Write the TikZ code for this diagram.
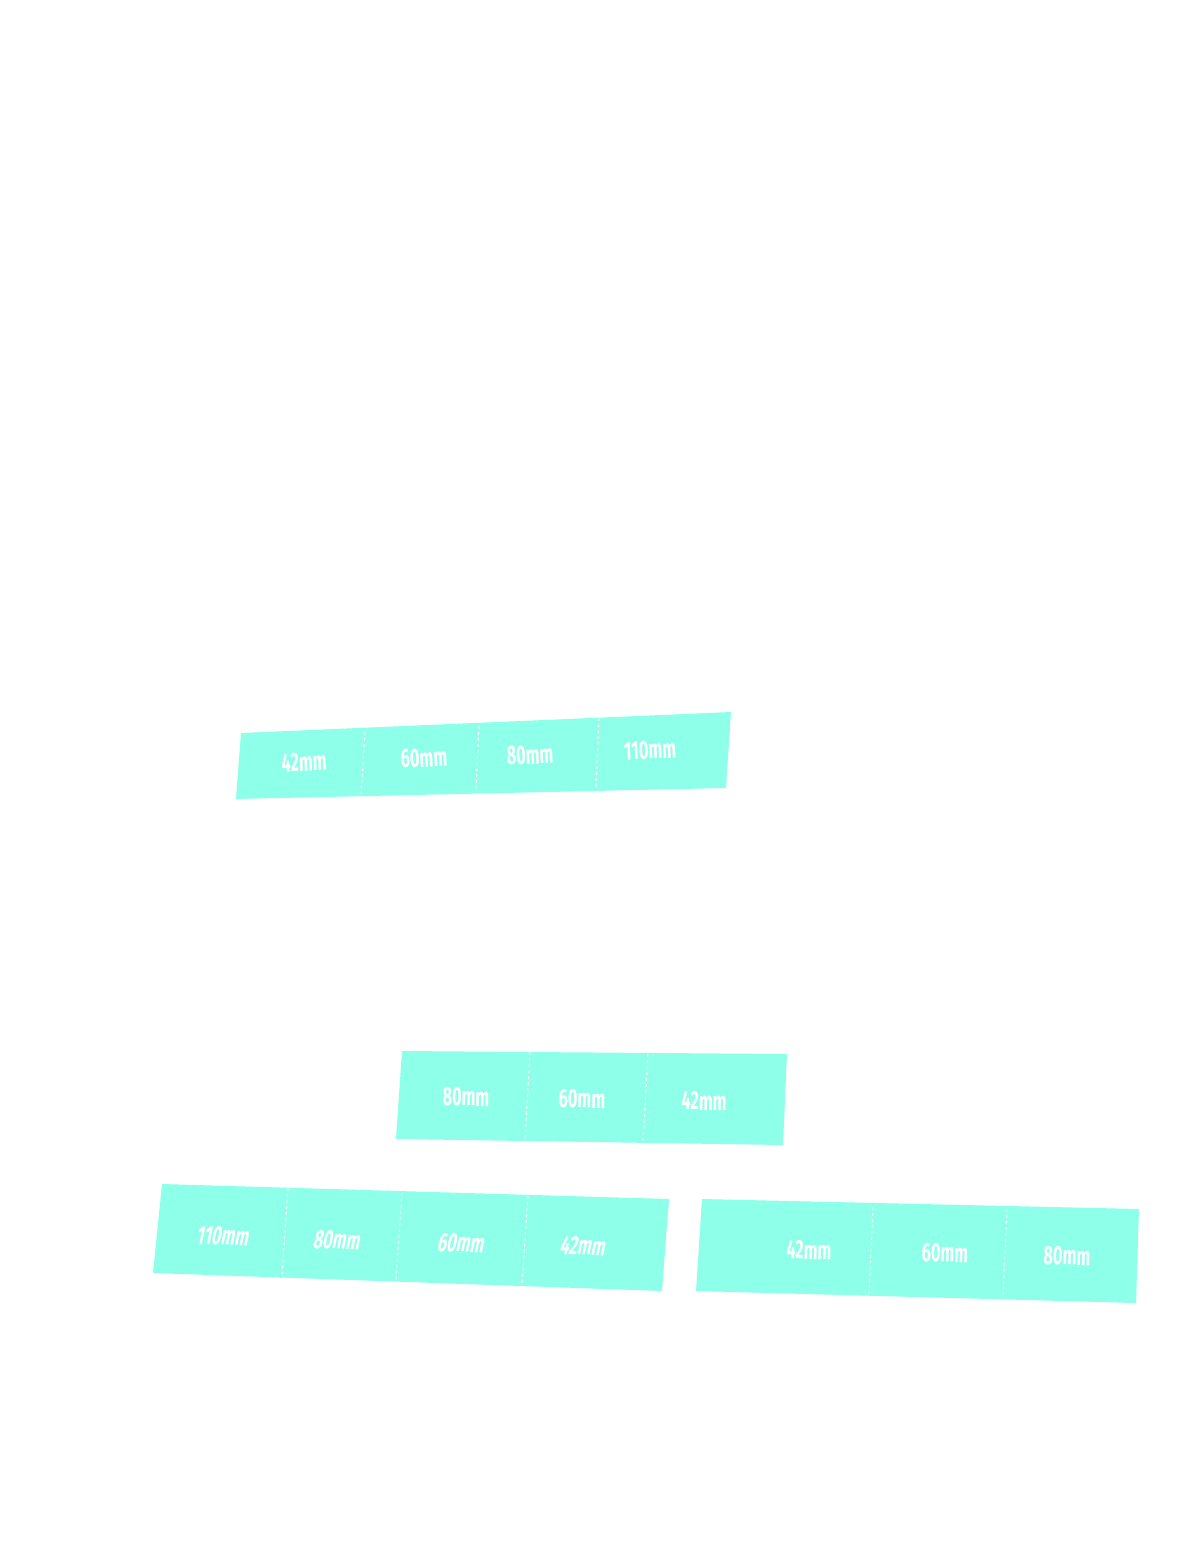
\documentclass[tikz,border=0pt]{standalone}
\usepackage{fontspec}
\newfontfamily\stripfont[FakeStretch=0.62]{Fira Sans}
\newfontfamily\stripslant[FakeStretch=0.62,FakeSlant=0.18]{Fira Sans}
\definecolor{stripcyan}{RGB}{142,255,232}
\tikzset{
  strip/.style={fill=stripcyan, draw=none},
  cut/.style={draw=white, line width=0.5pt, dash pattern=on 1.8pt off 1.6pt},
  sizelbl/.style={font=\stripfont\bfseries\fontsize{15}{15}\selectfont, text=white, inner sep=0pt},
  sizeslant/.style={sizelbl, font=\stripslant\bfseries\fontsize{15}{15}\selectfont},
}
\begin{document}
\begin{tikzpicture}[x=0.02cm,y=-0.02cm]
  \useasboundingbox (0,0) rectangle (1203,1541);
  % upper strip, rising to the right
  \fill[strip] (241,733) -- (731,712) -- (726,788) -- (236,799) -- cycle;
  \draw[cut] (365,732) -- (361,796);
  \draw[cut] (479,726) -- (476,789);
  \draw[cut] (599,718) -- (596,788);
  \foreach \x/\y/\n [count=\i] in {304/762/42,424/758/60,530/755/80,650/750/110}{
    \node[sizelbl,rotate=2.5] (a\i) at (\x,\y) {\n{}mm};
  }
  % middle strip
  \fill[strip] (402,1051) -- (787,1054) -- (783,1145) -- (396,1139) -- cycle;
  \draw[cut] (530,1052) -- (525,1141);
  \draw[cut] (648,1054) -- (643,1142);
  \foreach \x/\y/\n [count=\i] in {466/1097/80,582/1099/60,704/1101/42}{
    \node[sizelbl,rotate=-0.8] (b\i) at (\x,\y) {\n{}mm};
  }
  % lower left strip
  \fill[strip] (162,1184) -- (669,1199) -- (662,1291) -- (153,1273) -- cycle;
  \draw[cut] (288,1188) -- (282,1276);
  \draw[cut] (402,1193) -- (396,1281);
  \draw[cut] (528,1196) -- (522,1284);
  \foreach \x/\y/\n [count=\i] in {222/1236/110,336/1240/80,460/1243/60,582/1246/42}{
    \node[sizeslant,rotate=-1.8] (c\i) at (\x,\y) {\n{}mm};
  }
  % lower right strip
  \fill[strip] (702,1199) -- (1139,1209) -- (1136,1303) -- (696,1291) -- cycle;
  \draw[cut] (873,1207) -- (869,1294);
  \draw[cut] (1007,1209) -- (1003,1296);
  \foreach \x/\y/\n [count=\i] in {809/1250/42,945/1253/60,1067/1256/80}{
    \node[sizelbl,rotate=-1.3] (d\i) at (\x,\y) {\n{}mm};
  }
\end{tikzpicture}
\end{document}
